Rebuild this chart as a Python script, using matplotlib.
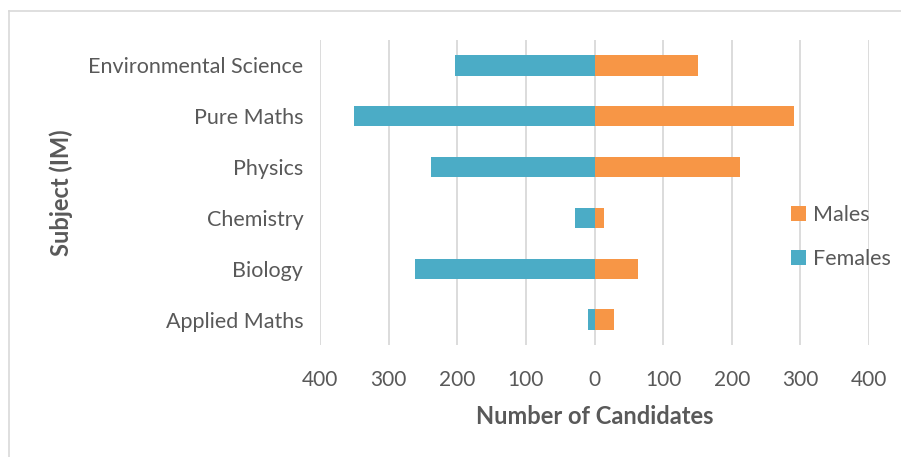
import matplotlib
matplotlib.use("Agg")
import matplotlib.pyplot as plt
from matplotlib.ticker import FuncFormatter
from matplotlib.lines import Line2D

subjects = ["Applied Maths", "Biology", "Chemistry", "Physics", "Pure Maths", "Environmental Science"]
males = [29, 63, 14, 212, 291, 151]
females = [10, 262, 28, 238, 351, 204]
ticks = [-400, -300, -200, -100, 0, 100, 200, 300, 400]

plt.rcParams['font.family'] = ['Lato', 'DejaVu Sans']
grey = '#595959'
male_c = '#F79646'
female_c = '#4BACC6'

fig = plt.figure(figsize=(9.01, 4.57), dpi=100)
W, H = 901, 457
ax = fig.add_axes([320 / W, 1 - 345 / H, (869 - 320) / W, (345 - 40) / H])

y = list(range(len(subjects)))
ax.barh(y, [-f for f in females], height=0.4, color=female_c, label='Females', zorder=3)
ax.barh(y, males, height=0.4, color=male_c, label='Males', zorder=3)

ax.set_xlim(-400, 400)
ax.set_ylim(-0.5, len(subjects) - 0.5)
ax.set_xticks(ticks)
ax.xaxis.set_major_formatter(FuncFormatter(lambda v, p: f"{abs(int(v))}"))
ax.set_yticks(y)
ax.set_yticklabels(subjects)
ax.grid(axis='x', color='#D9D9D9', linewidth=1.3, zorder=0)
for s in ax.spines.values():
    s.set_visible(False)
ax.tick_params(axis='x', length=0, pad=18, labelsize=15, labelcolor=grey)
ax.tick_params(axis='y', length=0, pad=12, labelsize=15.5, labelcolor=grey)

ax.set_xlabel("Number of Candidates", fontsize=17, fontweight='bold', color=grey, labelpad=11)
fig.text(61 / W, 1 - 193 / H, "Subject (IM)", rotation=90, fontsize=17, fontweight='bold',
         color=grey, ha='center', va='center')

handles, labels = ax.get_legend_handles_labels()
leg = fig.legend(handles[::-1], labels[::-1], loc='center left', bbox_to_anchor=(772 / W, 1 - 237 / H),
                 frameon=False, fontsize=15.5, labelcolor=grey, handlelength=0.7, handleheight=0.7,
                 handletextpad=0.3, labelspacing=1.15)

fig.add_artist(Line2D([8.5 / W, 8.5 / W], [0, 1 - 11 / H], transform=fig.transFigure,
                      color='#D9D9D9', linewidth=1.2))
fig.add_artist(Line2D([8.5 / W, 1], [1 - 11 / H, 1 - 11 / H], transform=fig.transFigure,
                      color='#D9D9D9', linewidth=1.2))

fig.savefig("out.png", dpi=100, facecolor='white')
